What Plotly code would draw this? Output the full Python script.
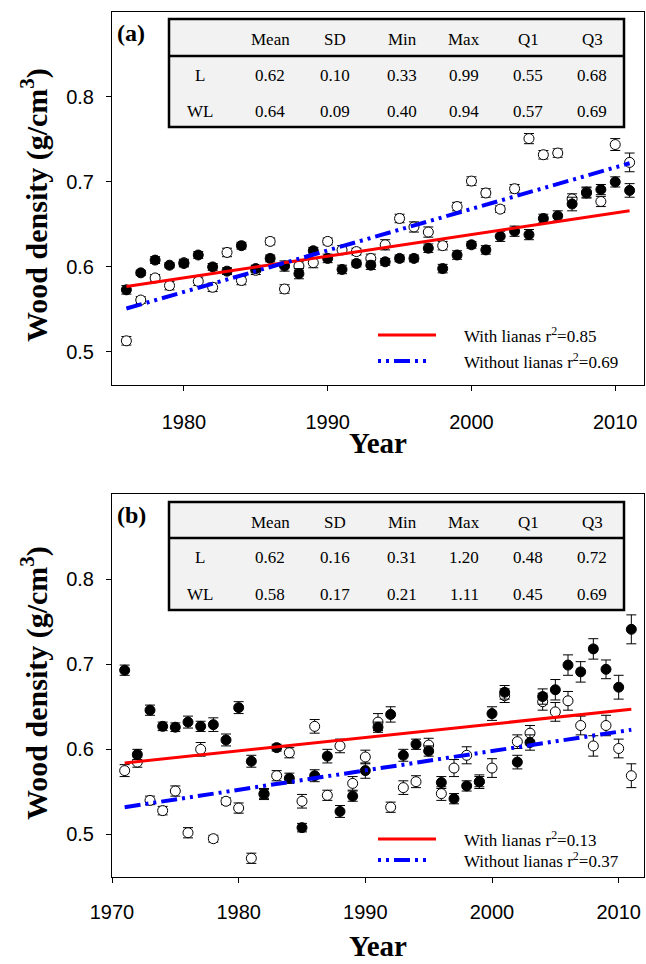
import plotly.graph_objects as go

# ---------------- data ----------------
years_a = list(range(1976, 2012))
L_a = [0.573, 0.593, 0.608, 0.602, 0.604, 0.614, 0.600, 0.595, 0.625, 0.598,
       0.610, 0.601, 0.592, 0.619, 0.610, 0.597, 0.604, 0.602, 0.606, 0.610,
       0.610, 0.622, 0.598, 0.614, 0.626, 0.620, 0.636, 0.642, 0.638, 0.657,
       0.660, 0.674, 0.687, 0.691, 0.700, 0.690]
WL_a = [0.513, 0.561, 0.587, 0.578, 0.605, 0.583, 0.576, 0.617, 0.584, 0.596,
        0.630, 0.574, 0.601, 0.605, 0.630, 0.620, 0.618, 0.610, 0.626, 0.657,
        0.647, 0.641, 0.625, 0.671, 0.701, 0.687, 0.668, 0.692, 0.751, 0.732,
        0.734, 0.680, 0.688, 0.677, 0.744, 0.723]
SE_L_a = [0.005, 0.003, 0.004, 0.003, 0.004, 0.004, 0.004, 0.004, 0.004, 0.004,
          0.004, 0.006, 0.006, 0.004, 0.005, 0.005, 0.004, 0.005, 0.004, 0.004,
          0.004, 0.005, 0.005, 0.005, 0.004, 0.005, 0.006, 0.006, 0.006, 0.005,
          0.006, 0.008, 0.006, 0.006, 0.006, 0.008]
SE_WL_a = [0.005, 0.004, 0.004, 0.005, 0.004, 0.005, 0.005, 0.005, 0.005, 0.005,
           0.004, 0.005, 0.005, 0.006, 0.004, 0.005, 0.004, 0.005, 0.006, 0.005,
           0.006, 0.006, 0.005, 0.005, 0.005, 0.005, 0.004, 0.005, 0.006, 0.005,
           0.005, 0.006, 0.006, 0.006, 0.007, 0.011]

years_b = list(range(1971, 2012))
L_b = [0.693, 0.594, 0.646, 0.627, 0.626, 0.632, 0.627, 0.629, 0.611, 0.649,
       0.586, 0.548, 0.602, 0.566, 0.508, 0.569, 0.592, 0.527, 0.545, 0.575,
       0.626, 0.641, 0.593, 0.606, 0.598, 0.561, 0.542, 0.557, 0.562, 0.642,
       0.667, 0.585, 0.608, 0.662, 0.670, 0.699, 0.691, 0.718, 0.694, 0.673,
       0.741]
WL_b = [0.575, 0.585, 0.540, 0.528, 0.551, 0.502, 0.600, 0.495, 0.539, 0.531,
        0.472, 0.547, 0.569, 0.596, 0.539, 0.627, 0.546, 0.604, 0.560, 0.591,
        0.632, 0.532, 0.555, 0.562, 0.605, 0.548, 0.578, 0.593, 0.562, 0.578,
        0.663, 0.609, 0.619, 0.656, 0.644, 0.657, 0.628, 0.604, 0.628, 0.601,
        0.569]
SE_L_b = [0.006, 0.006, 0.006, 0.005, 0.005, 0.007, 0.006, 0.008, 0.007, 0.007,
          0.007, 0.006, 0.004, 0.006, 0.005, 0.007, 0.008, 0.007, 0.006, 0.009,
          0.006, 0.009, 0.007, 0.006, 0.006, 0.007, 0.006, 0.006, 0.006, 0.008,
          0.008, 0.008, 0.009, 0.009, 0.012, 0.012, 0.012, 0.012, 0.011, 0.014,
          0.017]
SE_WL_b = [0.007, 0.006, 0.005, 0.005, 0.006, 0.006, 0.008, 0.004, 0.004, 0.006,
           0.006, 0.006, 0.006, 0.006, 0.008, 0.008, 0.006, 0.008, 0.008, 0.008,
           0.010, 0.006, 0.008, 0.007, 0.008, 0.008, 0.010, 0.010, 0.008, 0.011,
           0.008, 0.008, 0.009, 0.010, 0.011, 0.011, 0.011, 0.012, 0.012, 0.011,
           0.014]

# regression lines (end points)
fit_years_a = [1976, 2011]
fit_L_a = [0.577, 0.666]
fit_WL_a = [0.551, 0.722]
fit_years_b = [1971, 2011]
fit_L_b = [0.584, 0.647]
fit_WL_b = [0.532, 0.623]

r2_a = ["0.85", "0.69"]
r2_b = ["0.13", "0.37"]

stat_cols = ["Mean", "SD", "Min", "Max", "Q1", "Q3"]
row_labels = ["L", "WL"]
table_a = [["0.62", "0.10", "0.33", "0.99", "0.55", "0.68"],
           ["0.64", "0.09", "0.40", "0.94", "0.57", "0.69"]]
table_b = [["0.62", "0.16", "0.31", "1.20", "0.48", "0.72"],
           ["0.58", "0.17", "0.21", "1.11", "0.45", "0.69"]]

# ---------------- layout helpers ----------------
W, H = 646, 964
ML, MR, MT, MB = 112, 2, 12, 87
PW, PH = W - ML - MR, H - MT - MB


def px(x):
    return (x - ML) / PW


def py(y):
    return (H - MB - y) / PH


SERIF = "Liberation Serif, Times New Roman, serif"
SANS = "Liberation Sans, Arial, sans-serif"
RED = "#ff0000"
BLUE = "#0000ff"
BLUEDASH = "16px,5px,3px,5px,3px,5px"
BLUEDASH_LEG = "3px,5px,3px,5px,16px,5px"

fig = go.Figure()


def add_panel(xa, ya, years, L, WL, seL, seWL, fy, fL, fWL):
    fig.add_trace(go.Scatter(
        x=years, y=WL, mode="markers", xaxis=xa, yaxis=ya, showlegend=False,
        marker=dict(symbol="circle", size=10, color="white",
                    line=dict(color="black", width=1)),
        error_y=dict(type="data", array=seWL, color="black", thickness=1, width=5)))
    fig.add_trace(go.Scatter(
        x=years, y=L, mode="markers", xaxis=xa, yaxis=ya, showlegend=False,
        marker=dict(symbol="circle", size=10, color="black",
                    line=dict(color="black", width=1)),
        error_y=dict(type="data", array=seL, color="black", thickness=1, width=5)))
    fig.add_trace(go.Scatter(
        x=fy, y=fL, mode="lines", xaxis=xa, yaxis=ya, showlegend=False,
        line=dict(color=RED, width=3)))
    fig.add_trace(go.Scatter(
        x=fy, y=fWL, mode="lines", xaxis=xa, yaxis=ya, showlegend=False,
        line=dict(color=BLUE, width=4, dash=BLUEDASH)))


add_panel("x", "y", years_a, L_a, WL_a, SE_L_a, SE_WL_a, fit_years_a, fit_L_a, fit_WL_a)
add_panel("x2", "y2", years_b, L_b, WL_b, SE_L_b, SE_WL_b, fit_years_b, fit_L_b, fit_WL_b)

axis_common = dict(showline=True, mirror=True, linecolor="black", linewidth=1,
                   ticks="outside", ticklen=5, tickwidth=1, tickcolor="black",
                   showgrid=False, zeroline=False,
                   tickfont=dict(family=SANS, size=20, color="black"))

fig.update_layout(
    width=W, height=H, paper_bgcolor="white", plot_bgcolor="white",
    margin=dict(l=ML, r=MR, t=MT, b=MB),
    showlegend=False,
    xaxis=dict(domain=[0, 1], anchor="y", range=[1975, 2012],
               tickvals=[1980, 1990, 2000, 2010], ticklabelstandoff=14, **axis_common),
    yaxis=dict(domain=[py(385), 1], anchor="x", range=[0.461, 0.9],
               tickvals=[0.5, 0.6, 0.7, 0.8], ticklabelstandoff=8, **axis_common),
    xaxis2=dict(domain=[0, 1], anchor="y2", range=[1970, 2012],
                tickvals=[1970, 1980, 1990, 2000, 2010], ticklabelstandoff=12, **axis_common),
    yaxis2=dict(domain=[0, py(494)], anchor="x2", range=[0.45, 0.9],
                tickvals=[0.5, 0.6, 0.7, 0.8], ticklabelstandoff=8, **axis_common),
)

shapes = []
annotations = []


def ann(x, y, text, size, xanchor="center", angle=0):
    annotations.append(dict(x=px(x), y=py(y), xref="paper", yref="paper",
                            xanchor=xanchor, yanchor="middle", textangle=angle,
                            text=text, showarrow=False,
                            font=dict(family=SERIF, size=size, color="black")))


def add_table(top, sep, bottom, rows_y, data):
    shapes.append(dict(type="rect", xref="paper", yref="paper",
                       x0=px(169), x1=px(624), y0=py(bottom), y1=py(top),
                       fillcolor="#f2f2f2", line=dict(color="black", width=2.5),
                       layer="above"))
    shapes.append(dict(type="line", xref="paper", yref="paper",
                       x0=px(169), x1=px(624), y0=py(sep), y1=py(sep),
                       line=dict(color="black", width=2.5), layer="above"))
    col_x = [270, 335, 402, 464, 528, 592]
    for cx, name in zip(col_x, stat_cols):
        ann(cx, rows_y[0], name, 17)
    for r, (lab, vals) in enumerate(zip(row_labels, data)):
        ann(200, rows_y[r + 1], lab, 17)
        for cx, v in zip(col_x, vals):
            ann(cx, rows_y[r + 1], v, 17)


def add_legend(y_red, y_blue, r2):
    shapes.append(dict(type="line", xref="paper", yref="paper",
                       x0=px(378), x1=px(436), y0=py(y_red), y1=py(y_red),
                       line=dict(color=RED, width=3)))
    shapes.append(dict(type="line", xref="paper", yref="paper",
                       x0=px(378), x1=px(430), y0=py(y_blue), y1=py(y_blue),
                       line=dict(color=BLUE, width=4, dash=BLUEDASH_LEG)))
    for yy, lab, v in [(y_red, "With lianas", r2[0]), (y_blue, "Without lianas", r2[1])]:
        ann(462, yy, f"{lab} r<sup>2</sup>={v}", 17, xanchor="left")


add_table(19, 56, 127, [39, 75, 111], table_a)
add_table(502, 538, 610, [522, 557, 594], table_b)
add_legend(335, 361, r2_a)
add_legend(839, 860, r2_b)

ann(131, 33, "<b>(a)</b>", 24)
ann(131, 515, "<b>(b)</b>", 24)

for yy in [205, 683]:
    ann(34, yy, "<b>Wood density (g/cm<sup>3</sup>)</b>", 30, angle=-90)

for yy in [443, 946]:
    ann(378, yy, "<b>Year</b>", 29)

fig.update_layout(shapes=shapes, annotations=annotations)
fig.write_html("out.html")
